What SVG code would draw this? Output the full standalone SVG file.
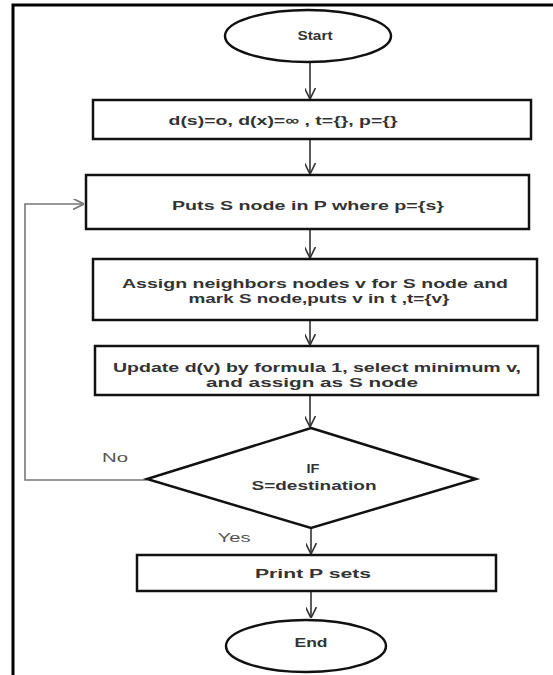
<svg xmlns="http://www.w3.org/2000/svg" width="553" height="675" viewBox="0 0 553 675">
<defs>
<style>
.box{fill:#fff;stroke:#111;stroke-width:2.5}
.t{font-family:"Liberation Sans",Arial,sans-serif;font-size:13.5px;font-weight:bold;fill:#333;text-anchor:middle;dominant-baseline:central}
.lbl{font-family:"Liberation Sans",Arial,sans-serif;font-size:13.5px;fill:#555;text-anchor:middle;dominant-baseline:central}
.c{fill:none;stroke:#333;stroke-width:1.6}
.fb{fill:none;stroke:#777;stroke-width:1.6}
</style>
<marker id="ah" viewBox="0 0 10 10" refX="10" refY="5" markerWidth="11" markerHeight="11" markerUnits="userSpaceOnUse" orient="auto">
<path d="M0,0 L10,5 L0,10" fill="none" stroke="#333" stroke-width="1.5"/>
</marker>
<marker id="ahg" viewBox="0 0 10 10" refX="10" refY="5" markerWidth="11" markerHeight="11" markerUnits="userSpaceOnUse" orient="auto">
<path d="M0,0 L10,5 L0,10" fill="none" stroke="#777" stroke-width="1.5"/>
</marker>
</defs>
<rect width="553" height="675" fill="#fff"/>
<path d="M13,675 V5 H553" fill="none" stroke="#000" stroke-width="3"/>
<g id="connectors">
<path class="c" d="M310,63 V99" marker-end="url(#ah)"/>
<path class="c" d="M310,139 V174" marker-end="url(#ah)"/>
<path class="c" d="M310,229 V258" marker-end="url(#ah)"/>
<path class="c" d="M310,320 V345" marker-end="url(#ah)"/>
<path class="c" d="M310,395 V427" marker-end="url(#ah)"/>
<path class="c" d="M311,528 V554" marker-end="url(#ah)"/>
<path class="c" d="M311,591 V618" marker-end="url(#ah)"/>
<path class="fb" d="M147,480 H25 V204 H84" marker-end="url(#ahg)"/>
<text class="lbl" x="115" y="457" textLength="26" lengthAdjust="spacingAndGlyphs">No</text>
<text class="lbl" x="234" y="537" textLength="33" lengthAdjust="spacingAndGlyphs">Yes</text>
</g>
<g id="start">
<ellipse class="box" cx="308" cy="36" rx="83" ry="26"/>
<text class="t" x="315" y="35" textLength="35" lengthAdjust="spacingAndGlyphs">Start</text>
</g>
<g id="init">
<rect class="box" x="93" y="100" width="438" height="39"/>
<text class="t" x="283" y="120" textLength="229" lengthAdjust="spacingAndGlyphs">d(s)=o, d(x)=∞ , t={}, p={}</text>
</g>
<g id="puts">
<rect class="box" x="86" y="175" width="443" height="54"/>
<text class="t" x="308" y="205" textLength="272" lengthAdjust="spacingAndGlyphs">Puts S node in P where p={s}</text>
</g>
<g id="assign">
<rect class="box" x="93" y="259" width="444" height="61"/>
<text class="t" x="315" y="283" textLength="386" lengthAdjust="spacingAndGlyphs">Assign neighbors nodes v for S node and</text>
<text class="t" x="319" y="298" textLength="261" lengthAdjust="spacingAndGlyphs">mark S node,puts v in t ,t={v}</text>
</g>
<g id="update">
<rect class="box" x="95" y="346" width="443" height="49"/>
<text class="t" x="317" y="367" textLength="408" lengthAdjust="spacingAndGlyphs">Update d(v) by formula 1, select minimum v,</text>
<text class="t" x="312" y="382" textLength="212" lengthAdjust="spacingAndGlyphs">and assign as S node</text>
</g>
<g id="decision">
<polygon class="box" points="311,428 476,479 311,528 147,479"/>
<text class="t" x="313" y="468" textLength="13" lengthAdjust="spacingAndGlyphs">IF</text>
<text class="t" x="314" y="485" textLength="125" lengthAdjust="spacingAndGlyphs">S=destination</text>
</g>
<g id="print">
<rect class="box" x="137" y="555" width="359" height="36"/>
<text class="t" x="313" y="573" textLength="116" lengthAdjust="spacingAndGlyphs">Print P sets</text>
</g>
<g id="end">
<ellipse class="box" cx="306" cy="646" rx="80" ry="26"/>
<text class="t" x="311" y="642" textLength="33" lengthAdjust="spacingAndGlyphs">End</text>
</g>
</svg>
